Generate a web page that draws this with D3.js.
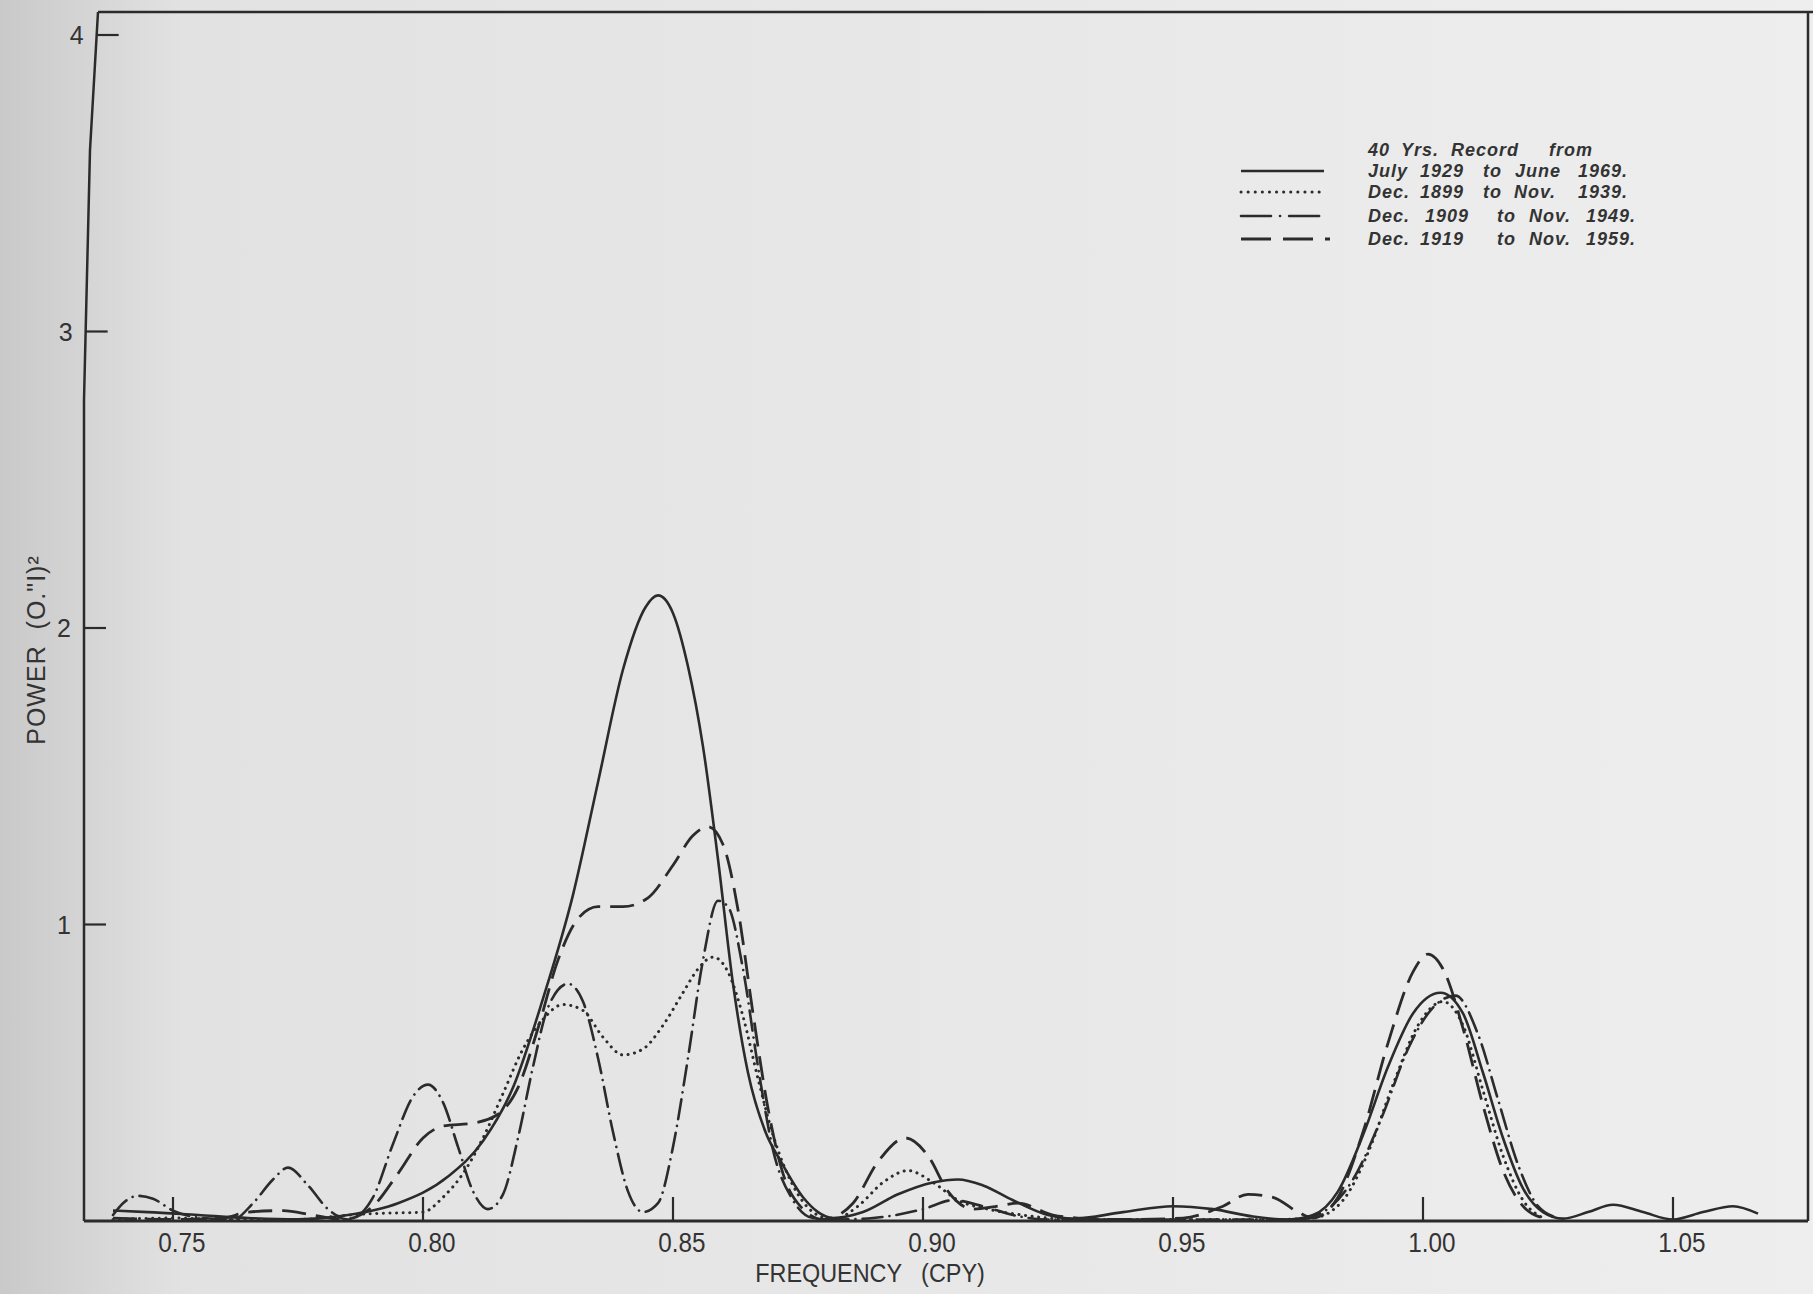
<!DOCTYPE html>
<html>
<head>
<meta charset="utf-8">
<script src="https://cdn.jsdelivr.net/npm/d3@7"></script>
<style>
  body { margin: 0; background: #e8e8e8; }
  svg { display: block; }
</style>
</head>
<body>
<div id="container"></div>
<script>
/* DATA */
const xTicks = [0.75, 0.80, 0.85, 0.90, 0.95, 1.00, 1.05];
const yTicks = [1, 2, 3, 4];
const legendHead = ["40", "Yrs.", "Record", "from"];
const legendRows = [
  ["July", "1929", "to", "June", "1969."],
  ["Dec.", "1899", "to", "Nov.", "1939."],
  ["Dec.", "1909", "to", "Nov.", "1949."],
  ["Dec.", "1919", "to", "Nov.", "1959."]
];

// [frequency (cpy), power]
const rec1929 = [
  [0.738,0.035],[0.745,0.03],[0.755,0.02],[0.765,0.01],[0.775,0.006],[0.785,0.02],
  [0.795,0.06],[0.805,0.15],[0.812,0.27],[0.818,0.45],[0.824,0.75],[0.830,1.10],
  [0.835,1.48],[0.840,1.86],[0.8445,2.07],[0.847,2.11],[0.850,2.05],[0.853,1.87],
  [0.856,1.60],[0.859,1.22],[0.862,0.80],[0.865,0.50],[0.8685,0.30],[0.8716,0.20],
  [0.876,0.08],[0.879,0.03],[0.882,0.01],[0.888,0.03],[0.895,0.09],[0.902,0.13],
  [0.907,0.14],[0.912,0.12],[0.918,0.07],[0.925,0.02],[0.930,0.008],[0.940,0.03],
  [0.950,0.05],[0.958,0.04],[0.966,0.015],[0.973,0.005],[0.978,0.02],[0.983,0.10],
  [0.988,0.29],[0.993,0.52],[0.998,0.70],[1.0035,0.77],[1.008,0.70],[1.012,0.50],
  [1.016,0.28],[1.020,0.11],[1.024,0.03],[1.028,0.008],[1.033,0.03],[1.038,0.055],
  [1.044,0.03],[1.050,0.005],[1.056,0.03],[1.062,0.05],[1.067,0.025]
];
const rec1899 = [
  [0.738,0.005],[0.750,0.01],[0.760,0.005],[0.775,0.005],[0.785,0.02],[0.790,0.025],
  [0.800,0.03],[0.804,0.08],[0.808,0.16],[0.812,0.28],[0.816,0.43],[0.820,0.58],
  [0.824,0.68],[0.828,0.73],[0.832,0.71],[0.836,0.62],[0.840,0.56],[0.844,0.58],
  [0.848,0.66],[0.852,0.77],[0.855,0.85],[0.858,0.89],[0.861,0.84],[0.864,0.69],
  [0.867,0.48],[0.870,0.29],[0.874,0.12],[0.878,0.03],[0.882,0.005],[0.887,0.05],
  [0.892,0.13],[0.897,0.17],[0.902,0.13],[0.907,0.07],[0.913,0.04],[0.920,0.02],
  [0.930,0.005],[0.950,0.005],[0.970,0.005],[0.978,0.01],[0.984,0.07],[0.989,0.23],
  [0.994,0.46],[0.999,0.66],[1.004,0.74],[1.008,0.66],[1.012,0.44],[1.016,0.22],
  [1.020,0.07],[1.024,0.01]
];
const rec1909 = [
  [0.738,0.02],[0.740,0.06],[0.743,0.085],[0.746,0.075],[0.750,0.035],[0.756,0.01],
  [0.762,0.005],[0.766,0.06],[0.770,0.14],[0.773,0.18],[0.777,0.12],[0.781,0.04],
  [0.785,0.005],[0.790,0.08],[0.794,0.26],[0.798,0.42],[0.801,0.46],[0.804,0.40],
  [0.807,0.25],[0.810,0.10],[0.813,0.04],[0.816,0.09],[0.819,0.28],[0.822,0.52],
  [0.825,0.72],[0.829,0.80],[0.832,0.74],[0.835,0.55],[0.838,0.30],[0.841,0.10],
  [0.844,0.03],[0.847,0.06],[0.850,0.25],[0.853,0.55],[0.856,0.88],[0.859,1.08],
  [0.861,1.06],[0.864,0.85],[0.867,0.52],[0.870,0.24],[0.874,0.07],[0.878,0.01],
  [0.883,0.005],[0.890,0.01],[0.900,0.04],[0.906,0.07],[0.912,0.05],[0.918,0.02],
  [0.925,0.005],[0.940,0.005],[0.960,0.005],[0.975,0.005],[0.980,0.03],[0.986,0.14],
  [0.992,0.36],[0.997,0.58],[1.002,0.72],[1.0065,0.76],[1.011,0.63],[1.015,0.41],
  [1.019,0.19],[1.023,0.05],[1.027,0.01]
];
const rec1919 = [
  [0.738,0.01],[0.750,0.005],[0.760,0.01],[0.765,0.03],[0.772,0.035],[0.778,0.02],
  [0.784,0.005],[0.790,0.05],[0.795,0.16],[0.800,0.28],[0.804,0.32],[0.810,0.33],
  [0.815,0.36],[0.819,0.45],[0.823,0.65],[0.827,0.88],[0.831,1.02],[0.835,1.06],
  [0.840,1.06],[0.845,1.09],[0.850,1.20],[0.854,1.30],[0.857,1.33],[0.860,1.27],
  [0.863,1.05],[0.866,0.70],[0.869,0.38],[0.872,0.16],[0.876,0.04],[0.880,0.005],
  [0.886,0.06],[0.891,0.20],[0.8965,0.28],[0.901,0.22],[0.905,0.10],[0.910,0.04],
  [0.915,0.05],[0.919,0.06],[0.926,0.02],[0.931,0.01],[0.940,0.005],[0.952,0.01],
  [0.960,0.05],[0.965,0.09],[0.970,0.08],[0.975,0.03],[0.978,0.01],[0.983,0.08],
  [0.988,0.30],[0.993,0.60],[0.998,0.84],[1.001,0.90],[1.004,0.85],[1.008,0.65],
  [1.012,0.39],[1.016,0.17],[1.020,0.05],[1.024,0.01]
];

const series = [
  { data: rec1929, dash: null, width: 2.6, cap: "butt" },
  { data: rec1899, dash: "0.1 6.5", width: 3, cap: "round" },
  { data: rec1909, dash: "20 7 0.1 7", width: 2.6, cap: "round" },
  { data: rec1919, dash: "24 10", width: 2.8, cap: "butt" }
];

/* SIZES */
const width = 1813, height = 1294;
const plot = { left: 84, top: 12, right: 1808, bottom: 1221 };
const ink = "#2b2b2b";
const font = "'Liberation Sans', 'DejaVu Sans', sans-serif";

/* SCALES */
const xScale = d3.scaleLinear().domain([0.75, 1.05]).range([173, 1673]);
const yScale = d3.scaleLinear().domain([0, 4]).range([plot.bottom, 35]);
// the scanned left edge leans a little near the top
const leftAt = d3.scaleLinear().domain([plot.top, 150, 400, plot.bottom])
  .range([plot.left + 14, plot.left + 6, plot.left, plot.left]).clamp(true);

const svg = d3.select("#container").append("svg")
  .attr("width", width).attr("height", height);

// scanned paper background
const grad = svg.append("defs").append("linearGradient").attr("id", "paper");
grad.append("stop").attr("offset", "0").attr("stop-color", "#c9c9c9");
grad.append("stop").attr("offset", "0.1").attr("stop-color", "#e2e2e2");
grad.append("stop").attr("offset", "1").attr("stop-color", "#eeeeee");
svg.append("rect").attr("width", width).attr("height", height).attr("fill", "url(#paper)");

// frame
svg.append("line").attr("x1", leftAt(plot.top)).attr("x2", width).attr("y1", plot.top).attr("y2", plot.top)
  .attr("stroke", ink).attr("stroke-width", 2.5);
svg.append("path")
  .attr("d", d3.line()([plot.top, 150, 400, plot.bottom].map(y => [leftAt(y), y])))
  .attr("stroke", ink).attr("stroke-width", 2.5).attr("fill", "none");
svg.append("line").attr("x1", plot.right).attr("x2", plot.right).attr("y1", plot.top).attr("y2", plot.bottom)
  .attr("stroke", ink).attr("stroke-width", 2.5);
svg.append("line").attr("x1", plot.left).attr("x2", plot.right).attr("y1", plot.bottom).attr("y2", plot.bottom)
  .attr("stroke", ink).attr("stroke-width", 3.2);

// x ticks (inward) + labels
svg.append("g").selectAll("line").data(xTicks).join("line")
  .attr("x1", d => xScale(d)).attr("x2", d => xScale(d))
  .attr("y1", plot.bottom).attr("y2", plot.bottom - 24)
  .attr("stroke", ink).attr("stroke-width", 2.2);
svg.append("g").selectAll("text").data(xTicks).join("text")
  .attr("x", d => xScale(d) + 9).attr("y", plot.bottom + 31)
  .attr("text-anchor", "middle")
  .attr("font-family", font).attr("font-size", 27).attr("fill", "#333")
  .attr("transform", d => `translate(${xScale(d) + 9},0) scale(0.9,1) translate(${-(xScale(d) + 9)},0)`)
  .text(d => d.toFixed(2));

// y ticks (inward) + labels
svg.append("g").selectAll("line").data(yTicks).join("line")
  .attr("x1", d => leftAt(yScale(d))).attr("x2", d => leftAt(yScale(d)) + 22)
  .attr("y1", d => yScale(d)).attr("y2", d => yScale(d))
  .attr("stroke", ink).attr("stroke-width", 2.2);
svg.append("g").selectAll("text").data(yTicks).join("text")
  .attr("x", d => leftAt(yScale(d)) - 13).attr("y", d => yScale(d) + 9)
  .attr("text-anchor", "end")
  .attr("font-family", font).attr("font-size", 25).attr("fill", "#333")
  .text(d => d);

// axis titles
svg.append("text")
  .attr("x", 870).attr("y", 1282).attr("text-anchor", "middle")
  .attr("font-family", font).attr("font-size", 26).attr("fill", "#333")
  .attr("transform", "translate(870,0) scale(0.9,1) translate(-870,0)")
  .attr("xml:space", "preserve")
  .text("FREQUENCY   (CPY)");
svg.append("text")
  .attr("transform", "translate(45,650) rotate(-90)")
  .attr("text-anchor", "middle")
  .attr("font-family", font).attr("font-size", 25).attr("fill", "#333")
  .attr("letter-spacing", 1)
  .attr("xml:space", "preserve")
  .text("POWER  (O.\"I)\u00B2");

// curves
const line = d3.line()
  .x(d => xScale(d[0]))
  .y(d => yScale(d[1]))
  .curve(d3.curveMonotoneX);

svg.append("g").selectAll("path").data(series).join("path")
  .attr("d", d => line(d.data))
  .attr("fill", "none")
  .attr("stroke", ink)
  .attr("stroke-width", d => d.width)
  .attr("stroke-linecap", d => d.cap)
  .attr("stroke-dasharray", d => d.dash);

// legend
const legend = svg.append("g")
  .attr("font-family", font).attr("font-style", "italic").attr("font-weight", "bold")
  .attr("font-size", 18).attr("letter-spacing", 1).attr("fill", "#333");
const headX = [1368, 1401, 1451, 1549];
const rowX = [
  [1368, 1420, 1483, 1515, 1578],
  [1368, 1420, 1483, 1514, 1578],
  [1368, 1425, 1497, 1529, 1586],
  [1368, 1420, 1497, 1529, 1586]
];
const headY = 156;
const rowY = [177, 198, 222, 245];
const keyY = [171, 192, 216, 239];

legend.selectAll("text.head").data(legendHead).join("text")
  .attr("class", "head")
  .attr("x", (d, i) => headX[i]).attr("y", headY)
  .text(d => d);

legendRows.forEach((row, r) => {
  legend.append("g").selectAll("text").data(row).join("text")
    .attr("x", (d, i) => rowX[r][i]).attr("y", rowY[r])
    .text(d => d);
});

const keyDash = [null, "0.1 7", "30 9 0.1 9", "30 12"];
svg.append("g").selectAll("line").data(series).join("line")
  .attr("x1", 1241).attr("x2", (d, i) => i === 3 ? 1330 : 1324)
  .attr("y1", (d, i) => keyY[i]).attr("y2", (d, i) => keyY[i])
  .attr("stroke", ink)
  .attr("stroke-width", d => d.width)
  .attr("stroke-linecap", d => d.cap)
  .attr("stroke-dasharray", (d, i) => keyDash[i]);
</script>
</body>
</html>
